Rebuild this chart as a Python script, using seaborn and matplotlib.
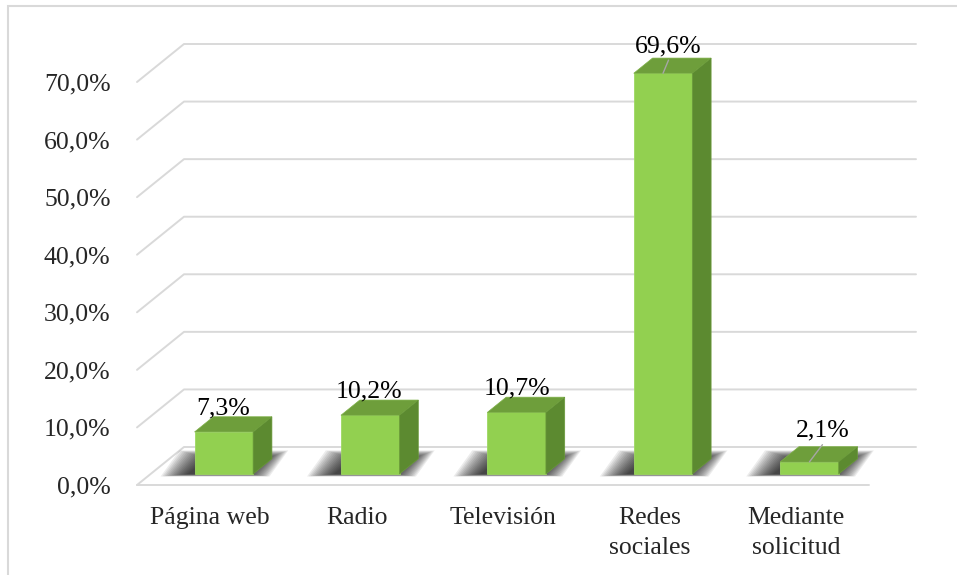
import numpy as np
import matplotlib
matplotlib.use("Agg")
import matplotlib.pyplot as plt
from matplotlib.patches import Polygon, Rectangle
import seaborn as sns

# Datos
categorias = ["Página web", "Radio", "Televisión", "Redes\nsociales", "Mediante\nsolicitud"]
porcentajes = [7.3, 10.2, 10.7, 69.6, 2.1]
etiquetas = ["7,3%", "10,2%", "10,7%", "69,6%", "2,1%"]
ticks_y = [0, 10, 20, 30, 40, 50, 60, 70]
ticks_y_txt = ["0,0%", "10,0%", "20,0%", "30,0%", "40,0%", "50,0%", "60,0%", "70,0%"]

sns.set_style("white")
plt.rcParams["font.family"] = ["Liberation Serif", "DejaVu Serif"]

VERDE = "#92D050"
VERDE_TOP = "#6E9E3B"
VERDE_LADO = "#5C8A30"
GRIS = "#D9D9D9"

W, H = 957, 575
fig = plt.figure(figsize=(W / 100, H / 100), dpi=100)
ax = fig.add_axes([137 / W, 1 - 485 / H, (916 - 137) / W, (485 - 41.7) / H])

# perspectiva (profundidad del piso en unidades de datos)
px_x = 779 / 5.321
px_y = 443.3 / 77
ddx = 47 / px_x
ddy = 38 / px_y
f0, prof = 0.29, 0.40   # posicion y fondo de las barras dentro del piso

# grilla tipo 3D
for t in ticks_y:
    ax.plot([-0.5, -0.5 + ddx, 4.5 + ddx], [t, t + ddy, t + ddy],
            color=GRIS, lw=1.4, zorder=1, clip_on=False)
ax.plot([-0.5, 4.5], [0, 0], color=GRIS, lw=1.4, zorder=1, clip_on=False)

sns.barplot(x=categorias, y=porcentajes, color=VERDE, saturation=1,
            width=0.4, ax=ax, zorder=4)

# ajustes de etiquetas (px)
nudge = {0: (-1, 2), 1: (-1.5, 3), 2: (0, 3), 3: (5.5, 6), 4: (13, 10)}
guia = [3, 4]

for i, p in enumerate(ax.patches):
    w = p.get_width()
    h = p.get_height()
    x0 = p.get_x() + f0 * ddx
    y0 = f0 * ddy
    p.set_x(x0)
    p.set_y(y0)
    p.set_edgecolor("#9ED862")
    p.set_linewidth(0.6)
    top = y0 + h
    bdx, bdy = prof * ddx, prof * ddy

    # sombra difusa (corrida a la izquierda)
    sx = -6 / px_x
    for m in np.linspace(28, 1, 16):
        mx = m / px_x
        my = m * 0.3 / px_y
        sh = Polygon([(x0 + sx - mx, y0 - my * 0.3), (x0 + w + sx + mx * 0.8, y0 - my * 0.3),
                      (x0 + w + bdx + sx + mx * 0.8, y0 + bdy + my), (x0 + bdx + sx - mx, y0 + bdy + my)],
                     closed=True, fc="black", ec="none", alpha=0.075, zorder=2)
        ax.add_patch(sh)

    ax.add_patch(Polygon([(x0, top), (x0 + w, top), (x0 + w + bdx, top + bdy), (x0 + bdx, top + bdy)],
                         closed=True, fc=VERDE_TOP, ec="#7DB046", lw=0.5, zorder=4))
    ax.add_patch(Polygon([(x0 + w, y0), (x0 + w + bdx, y0 + bdy), (x0 + w + bdx, top + bdy), (x0 + w, top)],
                         closed=True, fc=VERDE_LADO, ec="#6A9A3A", lw=0.5, zorder=4))

    nx, ny = nudge[i]
    lx = x0 + w / 2 + nx / px_x
    ly = top + bdy + ny / px_y
    ax.text(lx, ly, etiquetas[i], ha="center", va="baseline", fontsize=18.5,
            color="black", zorder=6)
    if i in guia:
        ax.plot([x0 + w / 2, lx], [top, ly - 8 / px_y], color="#A6A6A6", lw=1.0, zorder=5)

ax.set_xlim(-0.5, 4.5 + ddx)
ax.set_ylim(0, 77)
ax.set_yticks(ticks_y)
ax.set_yticklabels(ticks_y_txt, fontsize=18.5)
ax.set_xticks(range(len(categorias)))
ax.set_xticklabels(categorias, fontsize=18.5, linespacing=1.45)
ax.tick_params(axis="y", length=0, pad=19)
ax.tick_params(axis="x", length=0, pad=16)
ax.set_xlabel("")
ax.set_ylabel("")
ax.grid(False)
sns.despine(ax=ax, left=True, bottom=True)

# marco del grafico
fig.add_artist(Rectangle((8 / W, -0.02), 1.0, 1 - 6 / H + 0.02, transform=fig.transFigure,
                         fill=False, ec=GRIS, lw=1.5))

fig.savefig("out.png", dpi=100)
